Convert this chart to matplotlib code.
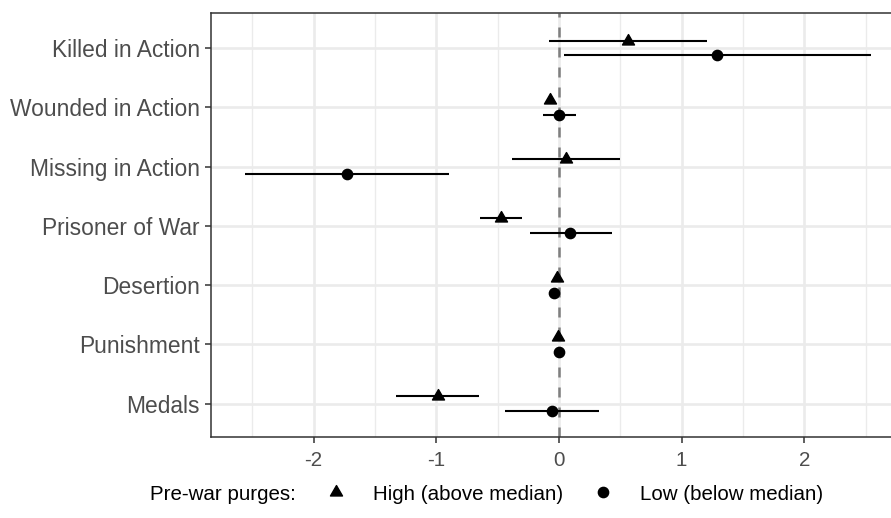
import matplotlib
matplotlib.use("Agg")
from matplotlib import pyplot as plt
from matplotlib.lines import Line2D
from matplotlib.path import Path
import numpy as np

plt.rcParams['font.family'] = ['Liberation Sans', 'DejaVu Sans']
plt.rcParams['axes.unicode_minus'] = False

# outcome categories, top to bottom
categories = ["Killed in Action", "Wounded in Action", "Missing in Action",
              "Prisoner of War", "Desertion", "Punishment", "Medals"]

# High (above median) pre-war purges: estimate and interval
high_est = [0.56, -0.07, 0.06, -0.47, -0.02, -0.01, -0.99]
high_lo = [-0.08, -0.09, -0.38, -0.64, -0.04, -0.03, -1.33]
high_hi = [1.21, -0.05, 0.50, -0.30, 0.00, 0.01, -0.65]

# Low (below median) pre-war purges: estimate and interval
low_est = [1.29, 0.00, -1.73, 0.09, -0.04, 0.00, -0.06]
low_lo = [0.04, -0.13, -2.56, -0.24, -0.06, -0.02, -0.44]
low_hi = [2.54, 0.14, -0.90, 0.43, -0.02, 0.02, 0.33]

x_ticks = [-2, -1, 0, 1, 2]
x_minor = [-2.5, -1.5, -0.5, 0.5, 1.5, 2.5]

# equilateral triangle, centroid at the origin (like ggplot shape 17)
tri = Path([(-1, -0.577), (1, -0.577), (0, 1.155), (-1, -0.577)],
           [Path.MOVETO, Path.LINETO, Path.LINETO, Path.CLOSEPOLY])

W, H = 891, 518
fig = plt.figure(figsize=(W / 100, H / 100), dpi=100)
ax = fig.add_axes([211 / W, 81 / H, 680 / W, 424 / H])

ypos = np.arange(len(categories))[::-1] + 1
dodge = 0.125

# grid, zero line
ax.set_xticks(x_ticks)
ax.set_xticks(x_minor, minor=True)
ax.set_yticks(ypos)
ax.set_yticklabels(categories)
ax.grid(True, which='major', color='#EBEBEB', lw=1.9, zorder=0)
ax.grid(True, which='minor', axis='x', color='#EBEBEB', lw=1.0, zorder=0)
ax.set_axisbelow(True)
ax.axvline(0, color='#7F7F7F', lw=1.8, ls=(0, (4, 4)), zorder=1)

# intervals and estimates
ax.hlines(ypos + dodge, high_lo, high_hi, color='black', lw=1.5, zorder=2)
ax.hlines(ypos - dodge, low_lo, low_hi, color='black', lw=1.5, zorder=2)
ax.plot(high_est, ypos + dodge, ls='none', marker=tri, ms=10,
        color='black', zorder=3)
ax.plot(low_est, ypos - dodge, ls='none', marker='o', ms=7.4,
        color='black', zorder=3)

ax.set_xlim(-2.836, 2.706)
ax.set_ylim(0.44, 7.59)

for s in ['left', 'top', 'bottom']:
    ax.spines[s].set_color('#333333')
    ax.spines[s].set_linewidth(1.1)
ax.spines['right'].set_visible(False)

ax.tick_params(axis='both', which='major', color='#333333', width=1.1,
               length=4.0)
ax.tick_params(axis='x', which='minor', length=0)
ax.tick_params(axis='x', labelsize=14.8, labelcolor='#4D4D4D', pad=6)
ax.tick_params(axis='y', labelsize=16.4, labelcolor='#4D4D4D', pad=4)

# legend along the bottom
fig.text(150 / W, 1 - 494 / H, "Pre-war purges:", fontsize=14.8,
         ha='left', va='center', color='black')
handles = [Line2D([], [], ls='none', marker=tri, ms=10, color='black'),
           Line2D([], [], ls='none', marker='o', ms=7.4, color='black')]
fig.legend(handles, ["High (above median)", "Low (below median)"],
           loc='center left', bbox_to_anchor=(325.7 / W, 1 - 494 / H),
           ncol=2, frameon=False, fontsize=14.8, handlelength=1.0,
           handletextpad=1.3, columnspacing=1.44, borderpad=0,
           borderaxespad=0)

fig.savefig("out.png", dpi=100)
